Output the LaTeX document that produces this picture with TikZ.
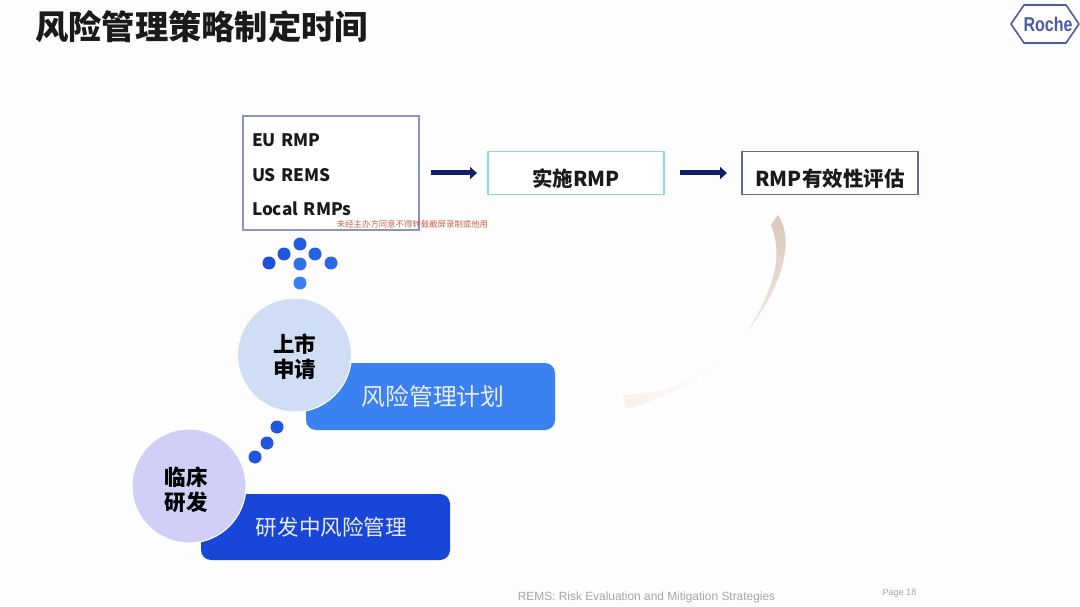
\documentclass[tikz,border=0pt]{standalone}
\usepackage{fontspec}
\setmainfont{Noto Sans CJK SC}
\setsansfont{Liberation Sans}
\definecolor{PageWhite}{HTML}{FDFDFD}
\definecolor{TextInk}{HTML}{1A1A1A}
\definecolor{ArrowNavy}{HTML}{0F1F6B}
\definecolor{PlanBlue}{HTML}{3B82F0}
\definecolor{DevBlue}{HTML}{1746D8}
\definecolor{MarketDisc}{HTML}{CFDDF5}
\definecolor{ClinicDisc}{HTML}{CFCFF7}
\definecolor{RocheBlue}{HTML}{4A5CA8}
\definecolor{ImplCyan}{HTML}{8FD6E0}
\definecolor{MarkRed}{HTML}{D0604A}
\definecolor{SweepTan}{HTML}{DBC6BA}
\definecolor{SweepPale}{HTML}{F0E8E3}
\definecolor{SweepHead}{HTML}{FBEFE8}
\usetikzlibrary{positioning, arrows.meta}

\begin{document}
\begin{tikzpicture}[
  x=1pt, y=-1pt,
  flowbox/.style={draw, line width=1.2pt, fill=white, minimum width=176pt, minimum height=43pt,
              inner sep=0pt, outer sep=0pt},
  flowtext/.style={inner sep=0pt, text=TextInk, font=\fontsize{20.5}{24}\selectfont\bfseries, yshift=-6pt},
  listtext/.style={inner sep=0pt, text=TextInk, text width=158pt, align=left,
              font=\fontsize{17.2}{34.5}\selectfont\bfseries, yshift=-2pt},
  bar/.style={rounded corners=10pt, inner sep=0pt, outer sep=0pt, text=white!92!blue, align=center,
              minimum width=249pt, text width=249pt},
  disc/.style={circle, draw=white, line width=1pt, minimum size=114pt, inner sep=0pt, outer sep=0pt},
  disctext/.style={align=center, inner sep=0pt, text=black, font=\fontsize{21.5}{25}\selectfont\bfseries},
  dotA/.style={circle, fill=#1, minimum size=13pt, inner sep=0pt, outer sep=0pt},
  arr/.style={-{Triangle[length=7pt,width=12pt]}, ArrowNavy, line width=5pt},
  note/.style={inner sep=0pt, text=gray!70},
]
  \useasboundingbox (0,0) rectangle (1080,607);
  \fill[PageWhite] (0,0) rectangle (1080,607);

  % title and logo
  \node[anchor=west, inner sep=0pt, text=TextInk, font=\fontsize{33.3}{36}\selectfont\bfseries] (title) at (35,27) {风险管理策略制定时间};
  \draw[RocheBlue, line width=1.6pt, fill=white, line join=round] (1011,24) -- (1024,5) -- (1066,5) -- (1079,24) -- (1066,43) -- (1024,43) -- cycle;
  \node[inner sep=0pt, text=RocheBlue, xscale=0.8, font=\sffamily\bfseries\fontsize{20}{22}\selectfont] (roche) at (1048,24) {Roche};

  % top row
  \node[flowbox, draw=RocheBlue!65, minimum height=114pt,
        label={[listtext]center:EU RMP\\ US REMS\\ Local RMPs}] (rmps) at (331,173) {};
  \node[flowbox, draw=ImplCyan, right=69pt of rmps, label={[flowtext]center:实施RMP}] (impl) {};
  \node[flowbox, draw=RocheBlue!90, right=78pt of impl, label={[flowtext]center:RMP有效性评估}] (eval) {};

  \draw[arr, shorten <=12pt, shorten >=11pt] (rmps) -- (impl);
  \draw[arr, shorten <=16pt, shorten >=15pt] (impl) -- (eval);

  \node[inner sep=0pt, text=MarkRed, font=\fontsize{8.4}{10}\selectfont] (mark) at (412.5,224) {未经主办方同意不得转载截屏录制或他用};

  % dots under the list
  \node[dotA=DevBlue!85!PlanBlue] (d1) at (269,263) {};
  \node[dotA=DevBlue!75!PlanBlue] (d2) at (284,254) {};
  \node[dotA=DevBlue!65!PlanBlue] (d3) at (300,244) {};
  \node[dotA=DevBlue!55!PlanBlue] (d4) at (315,254) {};
  \node[dotA=DevBlue!45!PlanBlue] (d5) at (331,263) {};
  \node[dotA=DevBlue!30!PlanBlue] (d6) at (300,264) {};
  \node[dotA=PlanBlue]            (d7) at (300,283) {};

  % bars and discs
  \node[bar, fill=PlanBlue, minimum height=67pt, font=\fontsize{23.8}{26}\selectfont] (plan) at (430.5,396.5) {\hspace*{5pt}风险管理计划};
  \node[bar, fill=DevBlue, minimum height=66pt, font=\fontsize{21.6}{26}\selectfont] (dev) at (325.5,527) {\hspace*{12pt}研发中风险管理};
  \node[disc, fill=MarketDisc, label={[disctext, yshift=-1.5pt]center:上市\\ 申请}] (market) at (294.5,355) {};
  \node[disc, fill=ClinicDisc, label={[disctext, xshift=-3pt, yshift=-4pt]center:临床\\ 研发}] (clinic) at (189,486) {};

  \node[dotA=DevBlue!75!PlanBlue] (s1) at (277,427) {};
  \node[dotA=DevBlue!75!PlanBlue] (s2) at (267,443) {};
  \node[dotA=DevBlue!75!PlanBlue] (s3) at (255,457) {};

  % return sweep
  \coordinate (sweeptop) at (778,215);
  \coordinate (sweepmid) at (747,332);
  \coordinate (sweepend) at (623,395);
  \shade[top color=SweepTan, bottom color=SweepPale] (sweeptop) -- (771,225)
    .. controls (785,260) and (770,295) .. (sweepmid)
    .. controls (783,285) and (795,240) .. (sweeptop) -- cycle;
  \shade[left color=SweepHead, right color=PageWhite] (725,355)
    .. controls (705,372) and (685,384) .. (657,392) -- (sweepend) -- (626,408)
    .. controls (650,404) and (695,385) .. (725,355) -- cycle;

  % footer
  \node[note, font=\sffamily\fontsize{11.9}{14}\selectfont] (foot) at (646.5,597) {REMS: Risk Evaluation and Mitigation Strategies};
  \node[note, font=\sffamily\fontsize{9}{11}\selectfont] (page) at (899.5,593.5) {Page 18};
\end{tikzpicture}
\end{document}
